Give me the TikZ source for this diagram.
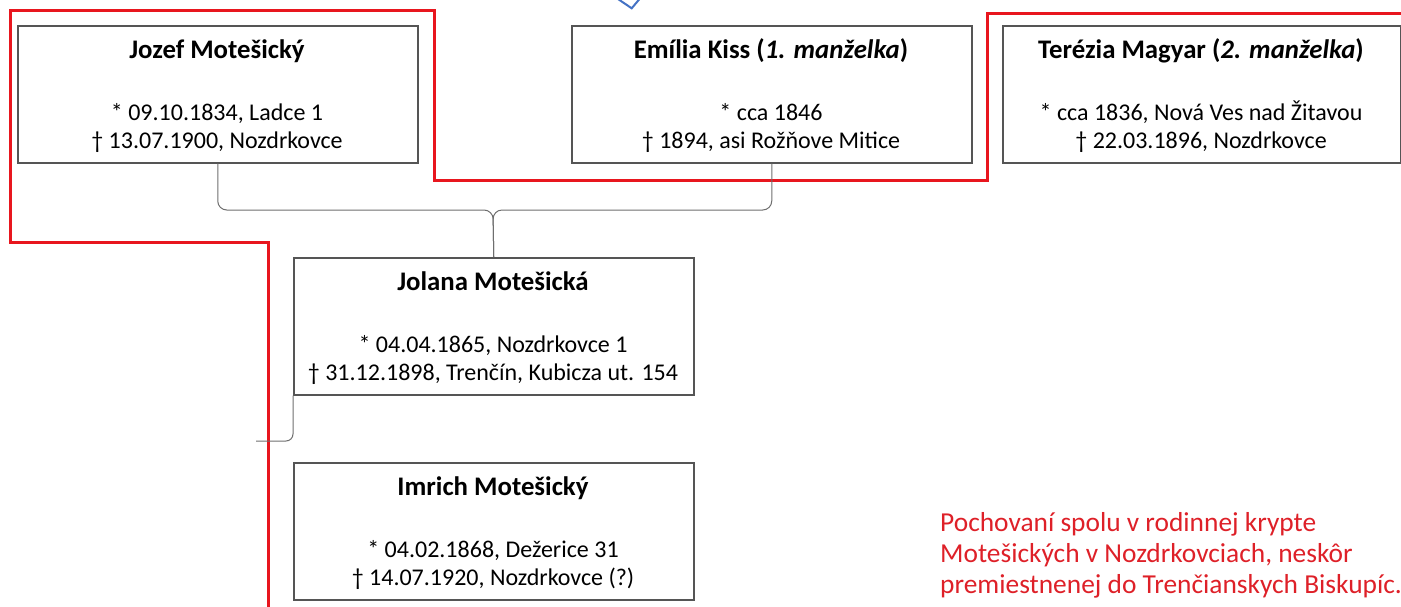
\documentclass[tikz,border=0pt]{standalone}
\usepackage{fontspec}
\setmainfont{Carlito}
\definecolor{boxline}{RGB}{85,85,85}
\definecolor{connline}{RGB}{110,110,110}
\definecolor{redline}{RGB}{232,22,30}
\definecolor{redtext}{RGB}{222,32,40}
\definecolor{bluemark}{RGB}{68,114,196}
\begin{document}
\begin{tikzpicture}[x=1pt,y=-1pt,
  person/.style={draw=boxline, line width=1.5pt, minimum width=400pt, minimum height=137pt, anchor=north west, inner sep=0pt},
  ptitle/.style={anchor=base, inner sep=0pt, font=\fontsize{26.8}{30}\selectfont\bfseries},
  pinfo/.style={anchor=base, inner sep=0pt, font=\fontsize{24}{28}\selectfont},
  note/.style={anchor=base west, inner sep=0pt, text=redtext, font=\fontsize{27.4}{31}\selectfont},
  conn/.style={draw=connline, line width=1pt, rounded corners=9pt},
  border/.style={draw=redline, line width=3pt}]
\useasboundingbox (0,0) rectangle (1401,606);

% red border
\draw[border] (268,607) -- (268,242) -- (10,242) -- (10,10) -- (434,10) -- (434,180) -- (987,180) -- (987,13) -- (1402,13);

% blue mark
\draw[draw=bluemark, line width=2pt] (618,-1) -- (631.7,8.3) -- (639.5,-1);

% persons
\node[person] (jozef) at (17,25) {};
\node[ptitle] (jozefT) at (217,58) {Jozef Motešický};
\node[pinfo] (jozefB) at (217,120) {* 09.10.1834, Ladce 1};
\node[pinfo] (jozefD) at (217,148) {† 13.07.1900, Nozdrkovce};

\node[person] (emilia) at (571,25) {};
\node[ptitle] (emiliaT) at (771,58) {Emília Kiss (\textit{1. manželka})};
\node[pinfo] (emiliaB) at (771,120) {* cca 1846};
\node[pinfo] (emiliaD) at (771,148) {† 1894, asi Rožňove Mitice};

\node[person, minimum width=398pt] (terezia) at (1002,25) {};
\node[ptitle] (tereziaT) at (1201,58) {Terézia Magyar (\textit{2. manželka})};
\node[pinfo] (tereziaB) at (1201,120) {* cca 1836, Nová Ves nad Žitavou};
\node[pinfo] (tereziaD) at (1201,148) {† 22.03.1896, Nozdrkovce};

\node[person] (jolana) at (293,257) {};
\node[ptitle] (jolanaT) at (493,290) {Jolana Motešická};
\node[pinfo] (jolanaB) at (493,352) {* 04.04.1865, Nozdrkovce 1};
\node[pinfo] (jolanaD) at (493,380) {† 31.12.1898, Trenčín, Kubicza ut. 154};

\node[person] (imrich) at (293,462) {};
\node[ptitle] (imrichT) at (493,495) {Imrich Motešický};
\node[pinfo] (imrichB) at (493,557) {* 04.02.1868, Dežerice 31};
\node[pinfo] (imrichD) at (493,585) {† 14.07.1920, Nozdrkovce (?)};

% connectors
\coordinate (mid) at (493,210);
\coordinate (bend) at (256,441);
\draw[conn] (jozef.south) |- (mid) -- (jolana.north);
\draw[conn] (emilia.south) |- (mid) -- (jolana.north);
\draw[conn, rounded corners=7pt] (jolana.south west) |- (bend);

% note
\node[note] (note1) at (940,531) {Pochovaní spolu v rodinnej krypte};
\node[note] (note2) at (940,562) {Motešických v Nozdrkovciach, neskôr};
\node[note] (note3) at (940,593) {premiestnenej do Trenčianskych Biskupíc.};
\end{tikzpicture}
\end{document}
